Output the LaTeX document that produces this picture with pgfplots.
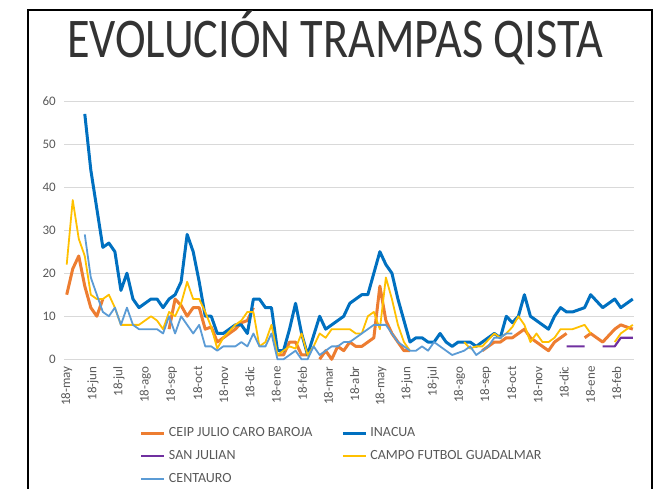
\documentclass[border=0pt]{standalone}
\usepackage{pgfplots}
\pgfplotsset{compat=1.18}
\usepackage{pgfplotstable}
\usepackage{fontspec}
\setmainfont{Carlito}
\usepackage{graphicx}
\definecolor{cOrange}{HTML}{ED7D31}
\definecolor{cBlue}{HTML}{0070C0}
\definecolor{cPurple}{HTML}{7030A0}
\definecolor{cYellow}{HTML}{FFC000}
\definecolor{cLight}{HTML}{5B9BD5}
\definecolor{labelgray}{HTML}{595959}
\definecolor{gridgray}{HTML}{D9D9D9}

\pgfplotstableread{
i ceip inacua sj campo cent
0 15 nan nan 22 nan
1 21 nan nan 37 nan
2 24 nan nan 28 nan
3 17 57 nan 24 29
4 12 44 nan 15 19
5 10 35 nan 14 15
6 14 26 nan 14 11
7 nan 27 nan 15 10
8 nan 25 nan 12 12
9 nan 16 nan 8 8
10 nan 20 nan 8 12
11 nan 14 nan 8 8
12 nan 12 nan 8 7
13 nan 13 nan 9 7
14 nan 14 nan 10 7
15 nan 14 nan 9 7
16 nan 12 nan 7 6
17 7 14 nan 11 10
18 14 15 nan 10 6
19 12.5 18 nan 13 10
20 10 29 nan 18 8
21 12 25 nan 14 6
22 12 18 nan 14 8
23 7 10 nan 11 3
24 7.5 10 nan 7.5 3
25 4 6 nan 2.5 2
26 5 6 nan 5 3
27 6 7 nan 6.5 3
28 7 8 nan 8 3
29 8.5 8 nan 9 4
30 9 6 nan 11 3
31 12 14 nan 11 6
32 nan 14 nan 3 3
33 nan 12 nan 4 3
34 nan 12 nan 8 6
35 1 2 nan 1 0
36 1 2 nan 2 0
37 4 7 nan 3 1
38 4 13 nan 2.5 2
39 1 6 nan 6 0
40 1 1 nan 1 0
41 nan 5.5 nan 3 3
42 0 10 nan 6 1
43 2 7 nan 5 2
44 0 8 nan 7 3
45 3 9 nan 7 3
46 2 10 nan 7 4
47 4 13 nan 7 4
48 3 14 nan 6 5
49 3 15 nan 6 6
50 4 15 nan 10 7
51 5 20 nan 11 8
52 17 25 nan 7 8
53 9 22 nan 19 8
54 6 20 nan 14 6
55 4 14 nan 8 4
56 2 9 nan 4 3
57 2 4 nan 2 2
58 nan 5 nan nan 2
59 nan 5 nan nan 3
60 nan 4 nan nan 2
61 nan 4 nan nan 4
62 nan 6 nan nan 3
63 nan 4 nan nan 2
64 nan 3 nan nan 1
65 nan 4 nan nan 1.5
66 nan 4 nan 4 2
67 nan 4 nan 2.5 3
68 nan 3 nan 3 1
69 2 4 nan 3 2
70 3 5 nan 4.5 3
71 4 6 nan 6 5
72 4 5 nan 5 5
73 5 10 nan 6 6
74 5 8.5 nan 7.5 6
75 6 10 nan 10 nan
76 7 15 nan 8 nan
77 5 10 nan 4 nan
78 4 9 nan 6 nan
79 3 8 nan 4 nan
80 2 7 nan 4 nan
81 4 10 nan 5 nan
82 5 12 nan 7 nan
83 6 11 3 7 nan
84 nan 11 3 7 nan
85 nan 11.5 3 7.5 nan
86 5 12 3 8 nan
87 6 15 nan 6 nan
88 5 13.5 nan nan nan
89 4 12 3 nan nan
90 5.5 13 3 nan nan
91 7 14 3 4 nan
92 8 12 5 6 nan
93 7.5 13 5 7 nan
94 7 14 5 8 nan
}\data

\begin{document}
\begin{tikzpicture}
\path[use as bounding box] (0,0) rectangle (662bp,489bp);
\draw[line width=2bp] (27.5bp,0bp) -- (27.5bp,478.5bp) -- (652bp,478.5bp) -- (652bp,0bp);
\node[anchor=base, text=black!80, inner sep=0pt] at (335bp,431bp)
  {\scalebox{0.825}[1]{\fontsize{56bp}{60bp}\selectfont EVOLUCIÓN TRAMPAS QISTA}};
\begin{axis}[
  at={(64bp,129.7bp)}, anchor=south west,
  scale only axis, width=570bp, height=258.3bp,
  xmin=-0.45, xmax=94.2, ymin=0, ymax=60,
  clip=false,
  axis line style={draw=none},
  major tick length=0pt,
  ymajorgrids, grid style={line width=0.75bp, color=gridgray},
  ytick={0,10,20,30,40,50,60},
  /pgf/number format/assume math mode=true,
  yticklabel style={font=\fontsize{13bp}{15bp}\selectfont, text=labelgray, inner sep=0pt, xshift=-8bp},
  xtick={0,4.348,8.696,13.044,17.392,21.74,26.088,30.436,34.784,39.132,43.48,47.828,52.176,56.524,60.872,65.22,69.568,73.916,78.264,82.612,86.96,91.308},
  xticklabels={18-may,18-jun,18-jul,18-ago,18-sep,18-oct,18-nov,18-dic,18-ene,18-feb,18-mar,18-abr,18-may,18-jun,18-jul,18-ago,18-sep,18-oct,18-nov,18-dic,18-ene,18-feb},
  xticklabel style={font=\fontsize{13bp}{15bp}\selectfont, text=labelgray, inner sep=0pt, yshift=-7bp, rotate=90, anchor=east},
  unbounded coords=jump,
  legend columns=2,
  legend cell align=left,
  legend image code/.code={\draw[#1] (0bp,0bp) -- (23bp,0bp);},
  legend style={at={(axis description cs:0.1333,-0.2602)}, anchor=north west,
    draw=none, fill=none, inner sep=0pt, outer sep=0pt,
    font=\fontsize{14bp}{16bp}\selectfont, text=labelgray, row sep=10bp,
    nodes={inner xsep=0pt, inner ysep=0pt, text height=10bp, text depth=3bp},
    /tikz/every odd column/.append style={column sep=3bp},
    /tikz/every even column/.append style={column sep=29bp}},
]
\addplot[cOrange, line width=3bp, line join=round] table[x=i, y=ceip]{\data};
\addlegendentry{CEIP JULIO CARO BAROJA}
\addplot[cBlue, line width=3bp, line join=round] table[x=i, y=inacua]{\data};
\addlegendentry{INACUA}
\addplot[cPurple, line width=2.2bp, line join=round] table[x=i, y=sj]{\data};
\addlegendentry{SAN JULIAN}
\addplot[cYellow, line width=1.8bp, line join=round] table[x=i, y=campo]{\data};
\addlegendentry{CAMPO FUTBOL GUADALMAR}
\addplot[cLight, line width=1.8bp, line join=round] table[x=i, y=cent]{\data};
\addlegendentry{CENTAURO}
\end{axis}
\end{tikzpicture}
\end{document}
